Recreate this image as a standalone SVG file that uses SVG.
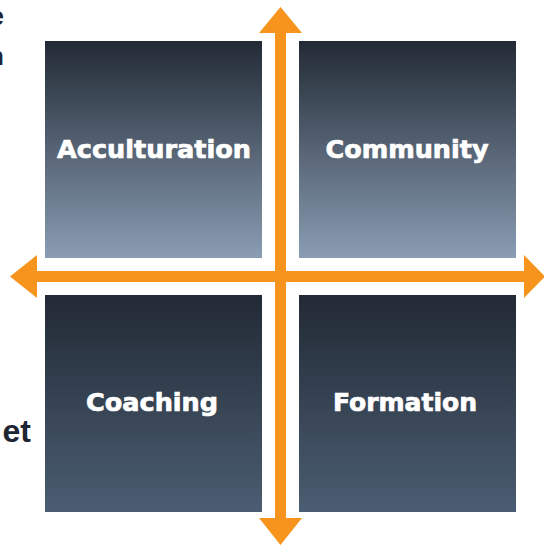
<svg xmlns="http://www.w3.org/2000/svg" width="544" height="545" viewBox="0 0 544 545">
<defs>
<linearGradient id="gTop" x1="0" y1="0" x2="0" y2="1">
<stop offset="0" stop-color="#222a35"/>
<stop offset="1" stop-color="#8a9db3"/>
</linearGradient>
<linearGradient id="gBot" x1="0" y1="0" x2="0" y2="1">
<stop offset="0" stop-color="#222a35"/>
<stop offset="1" stop-color="#4b5d72"/>
</linearGradient>
<style>
.lbl{font-family:"DejaVu Sans","Liberation Sans",sans-serif;font-weight:bold;font-size:24px;fill:#ffffff;stroke:#ffffff;stroke-width:0.7;text-anchor:middle}
.side{font-family:"Liberation Sans",Arial,sans-serif;font-weight:bold;fill:#1f2633;text-anchor:end}
.arrow{fill:#f7941d}
</style>
</defs>
<rect width="544" height="545" fill="#ffffff"/>
<g id="side-text">
<text class="side" x="4" y="25" font-size="26">e</text>
<text class="side" x="4" y="65" font-size="26">n</text>
<text class="side" x="31" y="442" font-size="32">et</text>
</g>
<g id="acculturation">
<rect x="45" y="41" width="217" height="217" fill="url(#gTop)"/>
<text class="lbl" x="154" y="158" textLength="194" lengthAdjust="spacingAndGlyphs">Acculturation</text>
</g>
<g id="community">
<rect x="299" y="41" width="217" height="217" fill="url(#gTop)"/>
<text class="lbl" x="407" y="158" textLength="163" lengthAdjust="spacingAndGlyphs">Community</text>
</g>
<g id="coaching">
<rect x="45" y="295" width="217" height="217" fill="url(#gBot)"/>
<text class="lbl" x="152" y="411" textLength="132" lengthAdjust="spacingAndGlyphs">Coaching</text>
</g>
<g id="formation">
<rect x="299" y="295" width="217" height="217" fill="url(#gBot)"/>
<text class="lbl" x="405" y="411" textLength="144" lengthAdjust="spacingAndGlyphs">Formation</text>
</g>
<g id="connectors">
<rect class="arrow" x="275" y="30" width="11" height="491"/>
<polygon class="arrow" points="280.5,7 302,33 259,33"/>
<polygon class="arrow" points="280.5,545 302,518 259,518"/>
<rect class="arrow" x="34" y="271" width="493" height="11"/>
<polygon class="arrow" points="10,276.5 37,255 37,298"/>
<polygon class="arrow" points="545,276.5 524,255 524,298"/>
</g>
</svg>
